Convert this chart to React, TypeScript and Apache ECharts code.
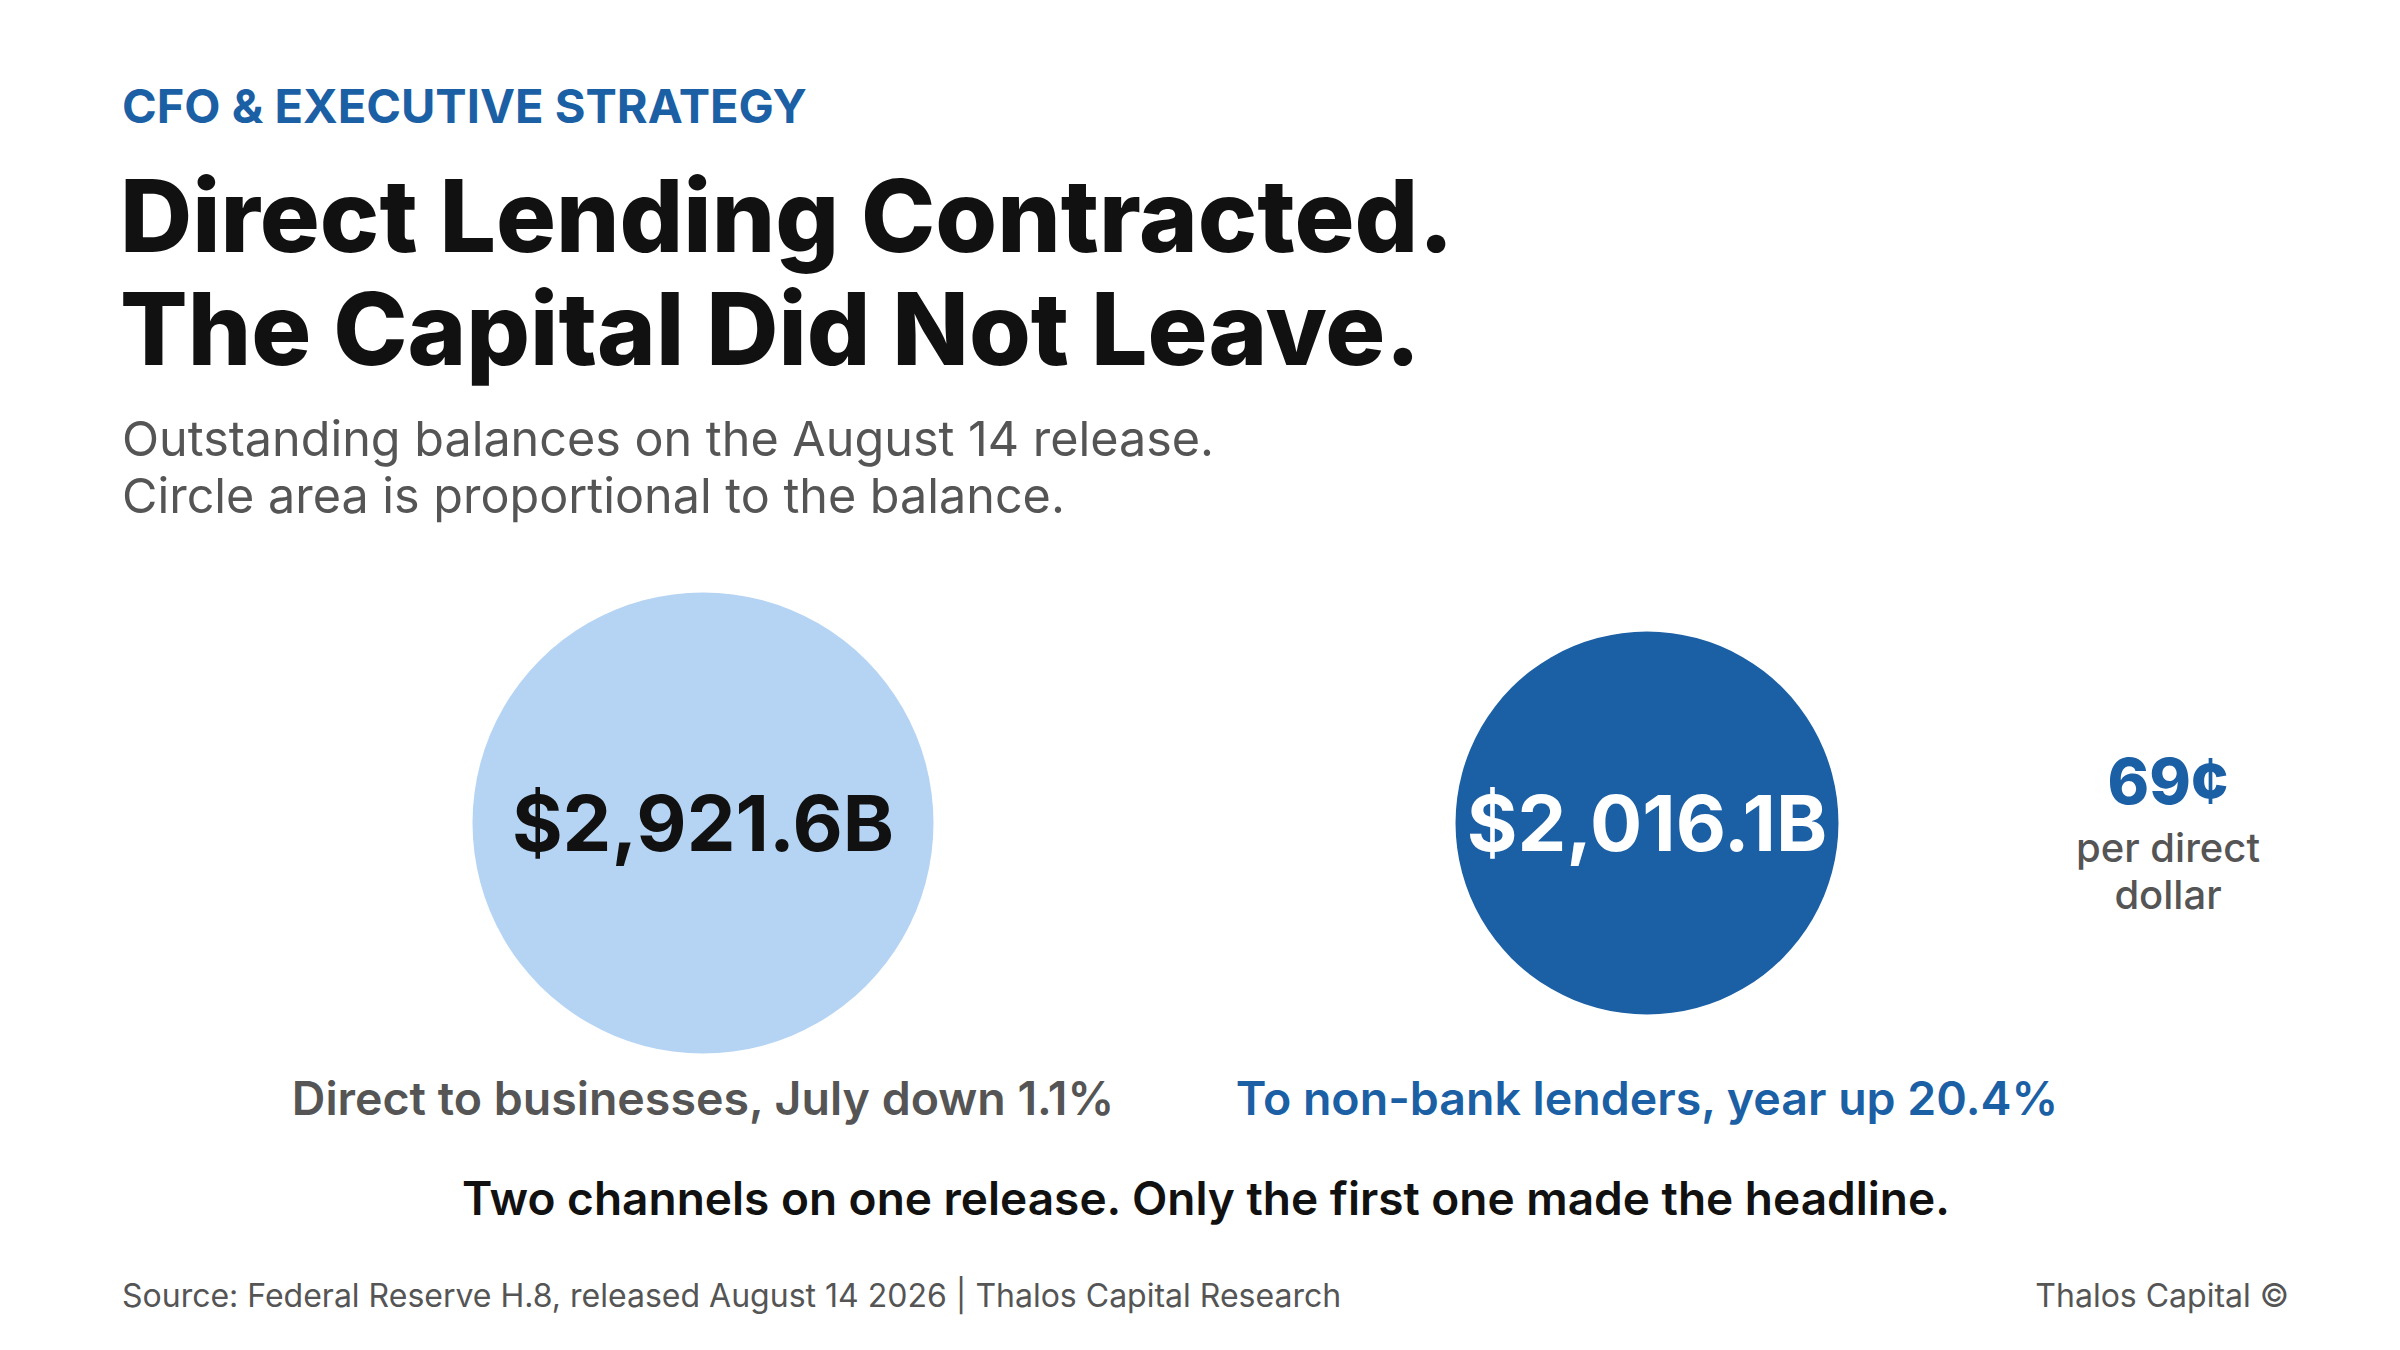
import React, { useEffect, useRef } from "react";
import * as echarts from "echarts";

const kicker = "CFO & EXECUTIVE STRATEGY";
const titleLines = ["Direct Lending Contracted.", "The Capital Did Not Leave."];
const subtitleLines = [
  "Outstanding balances on the August 14 release.",
  "Circle area is proportional to the balance.",
];
const categories = [
  "Direct to businesses, July down 1.1%",
  "To non-bank lenders, year up 20.4%",
];
const balances = [2921.6, 2016.1];
const ratioCaption = ["per direct", "dollar"];
const takeaway = "Two channels on one release. Only the first one made the headline.";
const sourceText = "Source: Federal Reserve H.8, released August 14 2026 | Thalos Capital Research";
const brandText = "Thalos Capital ©";

const FONT = "Inter, 'Noto Sans', sans-serif";
const LIGHT = "#b5d4f4";
const DARK = "#1b5fa5";
const INK = "#111111";
const GREY = "#555555";
const MAX_DIAMETER = 461;

export default function App() {
  const ref = useRef<HTMLDivElement>(null);

  useEffect(() => {
    document.body.style.margin = "0";
    const chart = echarts.init(ref.current!, null, { renderer: "svg" });
    const maxBal = Math.max(...balances);
    const cents = Math.round((balances[1] / balances[0]) * 100);
    const fills = [LIGHT, DARK];
    const labelInk = [INK, "#ffffff"];

    const txt = (text: string, x: number, y: number, size: number, weight: number, fill: string, align = "left") => ({
      type: "text",
      x,
      y,
      silent: true,
      style: {
        text,
        fontFamily: FONT,
        fontSize: size,
        fontWeight: weight,
        fill,
        align,
        verticalAlign: "middle",
      },
    });

    chart.setOption({
      animation: false,
      backgroundColor: "#ffffff",
      grid: {
        left: 231,
        width: 1888,
        top: 593,
        height: 460,
        containLabel: false,
        outerBoundsMode: "none",
      },
      xAxis: {
        type: "category",
        data: categories,
        axisLine: { show: false },
        axisTick: { show: false },
        splitLine: { show: false },
        axisLabel: {
          margin: 21,
          interval: 0,
          hideOverlap: false,
          formatter: (v: string, i: number) => (i === 0 ? `{a|${v}}` : `{b|${v}}`),
          rich: {
            a: { fontFamily: FONT, fontSize: 46.5, fontWeight: 600, color: GREY },
            b: { fontFamily: FONT, fontSize: 46.5, fontWeight: 600, color: DARK },
          },
        },
      },
      yAxis: { type: "value", min: -1, max: 1, show: false },
      series: [
        {
          type: "scatter",
          data: balances.map((v, i) => ({
            value: [i, 0, v],
            itemStyle: { color: fills[i], opacity: 1 },
            label: { color: labelInk[i] },
          })),
          symbol: "circle",
          symbolSize: (val: number[]) => MAX_DIAMETER * Math.sqrt(val[2] / maxBal),
          label: {
            show: true,
            position: "inside",
            fontFamily: FONT,
            fontSize: 77.5,
            fontWeight: 700,
            formatter: (p: any) =>
              "$" +
              p.value[2].toLocaleString("en-US", {
                minimumFractionDigits: 1,
                maximumFractionDigits: 1,
              }) +
              "B",
          },
          emphasis: { disabled: true },
        },
      ],
      graphic: [
        txt(kicker, 122, 105, 47, 700, DARK),
        ...titleLines.map((t, i) => txt(t, 120, 215 + i * 113, 100, 800, INK)),
        ...subtitleLines.map((t, i) => txt(t, 122, 438 + i * 57, 48.5, 400, GREY)),
        txt(`${cents}¢`, 2168, 781, 63, 800, DARK, "center"),
        ...ratioCaption.map((t, i) => txt(t, 2168, 847 + i * 47, 40, 500, GREY, "center")),
        txt(takeaway, 1206, 1198, 46, 600, INK, "center"),
        txt(sourceText, 122, 1295, 32, 400, GREY),
        txt(brandText, 2289, 1295, 32, 400, GREY, "right"),
      ],
    });
    return () => chart.dispose();
  }, []);

  return (
    <div
      ref={ref}
      style={{ position: "fixed", left: 0, top: 0, width: 2400, height: 1350, background: "#fff" }}
    />
  );
}
